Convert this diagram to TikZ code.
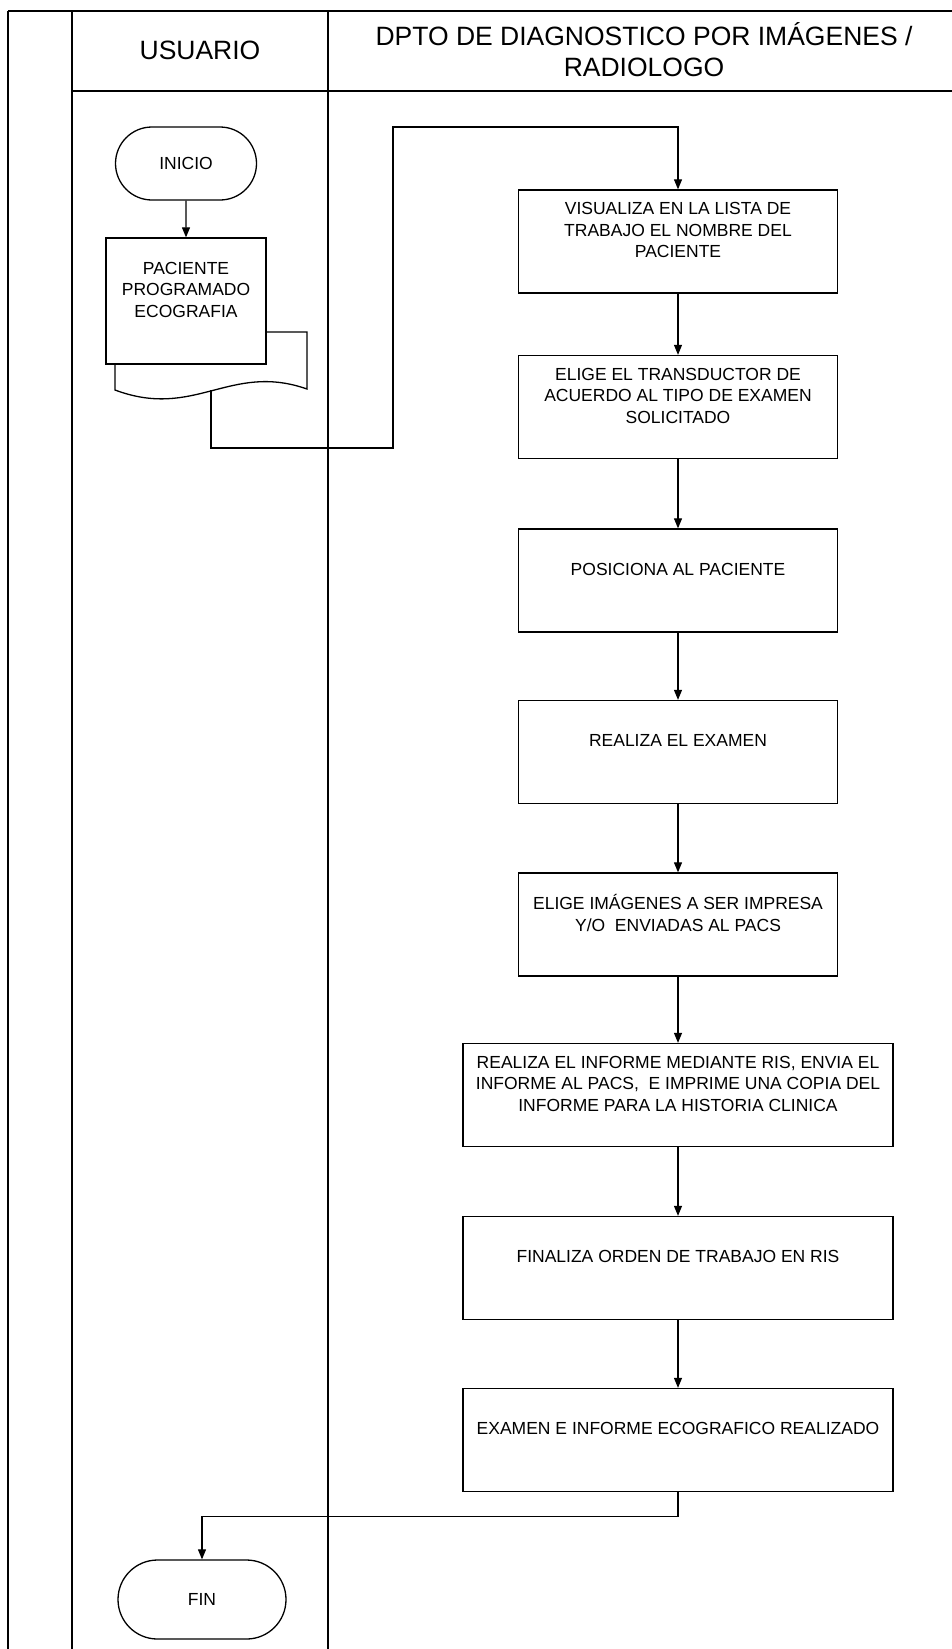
\documentclass[tikz,border=0pt]{standalone}
\usepackage{fontspec}
\setmainfont{Liberation Sans}
\usetikzlibrary{arrows.meta,shapes.misc}

\tikzset{
  proc/.style={draw, line width=1.3pt, minimum width=319pt, minimum height=103pt, inner sep=0pt},
  procwide/.style={proc, minimum width=430pt},
  term/.style={draw, line width=1.3pt, rounded rectangle, inner sep=0pt, font=\fontsize{17.5}{21.5}\selectfont},
  txt/.style={align=center, font=\fontsize{17.5}{21.5}\selectfont, yshift=11.5pt},
  head/.style={align=center, font=\fontsize{26.5}{31}\selectfont},
  arr/.style={line width=1.1pt, -{Triangle[length=10pt,width=8pt]}},
  lane/.style={line width=1.2pt}
}

\begin{document}
\begin{tikzpicture}[x=1pt, y=-1pt]
\useasboundingbox (0,0) rectangle (952,1649);

% Carriles
\draw[line width=2.5pt] (8,11) -- (952,11); % borde superior
\draw[lane] (8,11) -- (8,1649);
\draw[lane] (72,11) -- (72,1649);
\draw[lane] (328,11) -- (328,1649);
\draw[lane] (72,91) -- (952,91); % fin de cabecera

\node[head] (hUsu) at (200,50) {USUARIO};
\node[head] (hDpto) at (644,50) {DPTO DE DIAGNOSTICO POR IMÁGENES /\\RADIOLOGO};

% Usuario
\node[term, minimum width=141pt, minimum height=73pt] (ini) at (186,163.5) {INICIO};

\draw[line width=1.3pt] (267,332) -- (307,332) -- (307,389)
  .. controls (230,362) and (195,420) .. (115,390) -- (115,364); % hoja de fondo
\node[proc, minimum width=160pt, minimum height=126pt,
  label={[txt]center:PACIENTE\\PROGRAMADO\\ECOGRAFIA}] (doc) at (186,301) {};
\coordinate (docout) at (211,390);

\node[term, minimum width=168pt, minimum height=79pt] (fin) at (202,1599.5) {FIN};

% Departamento
\node[proc, label={[txt]center:VISUALIZA EN LA LISTA DE\\TRABAJO EL NOMBRE DEL\\PACIENTE}] (b1) at (678,241.5) {};
\node[proc, label={[txt]center:ELIGE EL TRANSDUCTOR DE\\ACUERDO AL TIPO DE EXAMEN\\SOLICITADO}] (b2) at (678,407) {};
\node[proc, label={[txt]center:POSICIONA AL PACIENTE}] (b3) at (678,580.5) {};
\node[proc, label={[txt]center:REALIZA EL EXAMEN}] (b4) at (678,752) {};
\node[proc, label={[txt]center:ELIGE IMÁGENES A SER IMPRESA\\Y/O~ ENVIADAS AL PACS}] (b5) at (678,924.5) {};
\node[procwide, label={[txt]center:{REALIZA EL INFORME MEDIANTE RIS, ENVIA EL\\INFORME AL PACS,~ E IMPRIME UNA COPIA DEL\\INFORME PARA LA HISTORIA CLINICA}}] (b6) at (678,1095) {};
\node[procwide, label={[txt]center:FINALIZA ORDEN DE TRABAJO EN RIS}] (b7) at (678,1268) {};
\node[procwide, label={[txt]center:EXAMEN E INFORME ECOGRAFICO REALIZADO}] (b8) at (678,1440) {};

% Conectores
\draw[arr] (ini) -- (doc);
\draw[arr] (docout) |- ++(182,58) -- ++(0,-321) -| (b1.north);
\draw[arr] (b1) -- (b2);
\draw[arr] (b2) -- (b3);
\draw[arr] (b3) -- (b4);
\draw[arr] (b4) -- (b5);
\draw[arr] (b5) -- (b6);
\draw[arr] (b6) -- (b7);
\draw[arr] (b7) -- (b8);
\draw[arr] (b8.south) -- ++(0,24) -| (fin.north);

\end{tikzpicture}
\end{document}
